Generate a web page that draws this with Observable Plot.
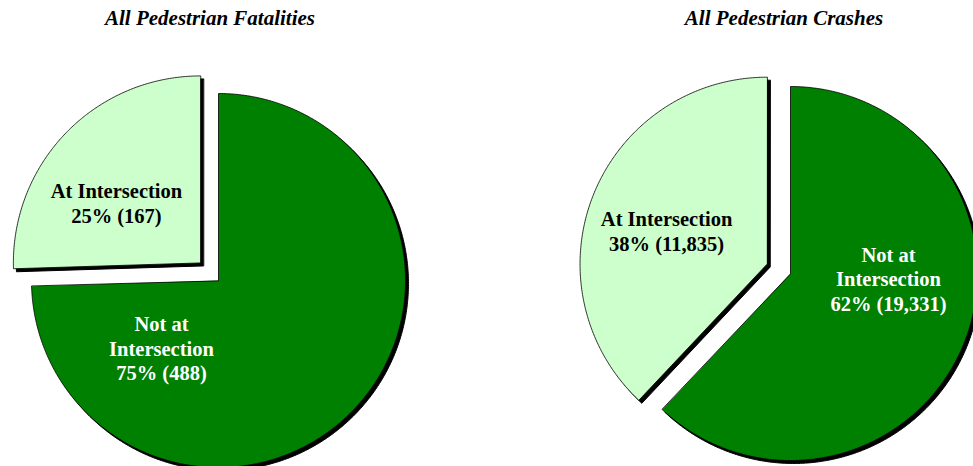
<!DOCTYPE html>
<html>
<head>
<meta charset="utf-8">
<script src="https://cdn.jsdelivr.net/npm/d3@7"></script>
<script src="https://cdn.jsdelivr.net/npm/@observablehq/plot@0.6"></script>
<style>
  html, body { margin: 0; padding: 0; background: #fff; overflow: hidden; }
  #wrap { position: relative; width: 973px; height: 466px; }
  #titles { position: relative; width: 973px; height: 40px; }
  .ttl { position: absolute; top: 6px; transform: translateX(-50%); white-space: nowrap;
         font-family: "Liberation Serif", "DejaVu Serif", serif; font-weight: bold; font-style: italic;
         font-size: 21px; color: #000; }
</style>
</head>
<body>
<div id="wrap">
  <div id="titles"></div>
  <div id="chart"></div>
</div>
<script>
// ---- data ----
const pieTitles = ["All Pedestrian Fatalities", "All Pedestrian Crashes"];
const categories = ["Not at Intersection", "At Intersection"];
const categoryLabels = ["Not at\nIntersection", "At Intersection"];
const fatalities = [488, 167];
const crashes = [19331, 11835];
const seriesValues = [fatalities, crashes];
const sliceColors = ["#008000", "#CCFFCC"];
const labelColors = ["#ffffff", "#000000"];
const explodedCategory = "At Intersection";

// ---- layout (pixels) ----
const W = 973, H = 426, R = 187;
const pieCenters = [[218, 240], [790, 233]];
const titleX = [210, 784];
const explode = 0.135;
// label offsets from slice apex, in radius units: [pie][category]
const labelOffsets = [
  [[-0.305, 0.36], [-0.449, -0.321]],
  [[0.524, 0.027], [-0.537, -0.178]]
];

// titles
const tdiv = document.getElementById("titles");
pieTitles.forEach((t, i) => {
  const s = document.createElement("div");
  s.className = "ttl";
  s.style.left = titleX[i] + "px";
  s.textContent = t;
  tdiv.appendChild(s);
});

// build slice polygons and labels
const fmt = d3.format(",");
const rad = d => d * Math.PI / 180;
const slices = [];
const labels = [];
seriesValues.forEach((vals, p) => {
  const total = d3.sum(vals);
  const [cx, cy] = pieCenters[p];
  let a0 = 0;
  vals.forEach((v, c) => {
    const a1 = a0 + 360 * v / total;
    const mid = (a0 + a1) / 2;
    const off = categories[c] === explodedCategory ? explode * R : 0;
    const ox = cx + off * Math.sin(rad(mid));
    const oy = cy - off * Math.cos(rad(mid));
    const key = p + "-" + c;
    slices.push({key, x: ox, y: oy, color: sliceColors[c]});
    const n = Math.max(2, Math.ceil((a1 - a0) / 0.5));
    for (let k = 0; k <= n; k++) {
      const a = a0 + (a1 - a0) * k / n;
      slices.push({key, x: ox + R * Math.sin(rad(a)), y: oy - R * Math.cos(rad(a)), color: sliceColors[c]});
    }
    const pct = Math.round(100 * v / total);
    labels.push({
      x: ox + labelOffsets[p][c][0] * R,
      y: oy + labelOffsets[p][c][1] * R,
      text: categoryLabels[c] + "\n" + pct + "% (" + fmt(v) + ")",
      color: labelColors[c]
    });
    a0 = a1;
  });
});

const chart = Plot.plot({
  width: W,
  height: H,
  margin: 0,
  x: {domain: [0, W], range: [0, W], axis: null},
  y: {domain: [0, H], range: [0, H], axis: null},
  color: {type: "identity"},
  style: {background: "transparent", overflow: "hidden"},
  marks: [
    Plot.line(slices, {x: "x", y: "y", z: "key", fill: "black", stroke: "black", strokeWidth: 1, curve: "linear-closed", dx: 3, dy: 3}),
    Plot.line(slices, {x: "x", y: "y", z: "key", fill: "color", stroke: "black", strokeWidth: 0.8, curve: "linear-closed"}),
    Plot.text(labels, {x: "x", y: "y", text: "text", fill: "color", fontSize: 20.5, fontWeight: "bold",
      fontFamily: "Liberation Serif, DejaVu Serif, serif", lineHeight: 1.2, textAnchor: "middle"})
  ]
});
document.getElementById("chart").appendChild(chart);
</script>
</body>
</html>
